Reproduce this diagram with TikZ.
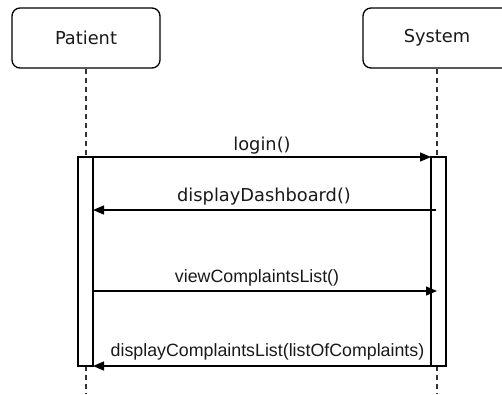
\documentclass[tikz,border=0pt]{standalone}
\usepackage{fontspec}
\newfontfamily\dejavu{DejaVu Sans}
\newfontfamily\arialf{Liberation Sans}
\usetikzlibrary{arrows.meta}
\begin{document}
\begin{tikzpicture}[x=1bp,y=-1bp,
  actor/.style={draw=black,line width=1.3bp,rounded corners=8bp,minimum width=148bp,minimum height=60bp,inner sep=0pt,font=\dejavu\fontsize{17.8bp}{20bp}\selectfont,text=black!90},
  life/.style={draw=black!80,line width=1.4bp,dash pattern=on 5bp off 4bp},
  bar/.style={draw=black,fill=white,line width=1.3bp,minimum width=15bp,inner sep=0pt},
  msg/.style={draw=black,line width=1.3bp,-{Triangle[length=11bp,width=9bp]}},
  lblA/.style={anchor=base,font=\dejavu\fontsize{17.8bp}{20bp}\selectfont,text=black!90,inner sep=0pt},
  lblB/.style={anchor=base,font=\arialf\fontsize{17.8bp}{20bp}\selectfont,text=black!90,inner sep=0pt}]
\useasboundingbox (0,0) rectangle (502,394);
\clip (0,0) rectangle (502,394);
% actors
\node[actor] (patient) at (86,38) {Patient};
\node[actor] (system) at (437,38) {System};
% lifeline ends
\coordinate (pTop) at (86,157);
\coordinate (sTop) at (437,157);
\coordinate (pEnd) at (86,394);
\coordinate (sEnd) at (437,394);
\draw[life] (patient.south) -- (pTop);
\draw[life] (system.south) -- (sTop);
\draw[life] (86,366) -- (pEnd);
\draw[life] (437,366) -- (sEnd);
% activation bars
\node[bar,minimum height=209bp] (pbar) at (85.5,261.5) {};
\node[bar,minimum height=209bp] (sbar) at (438.5,261.5) {};
% message endpoints
\coordinate (m1s) at (93,157);  \coordinate (m1e) at (431,157);
\coordinate (m2s) at (436,210); \coordinate (m2e) at (93,210);
\coordinate (m3s) at (93,291);  \coordinate (m3e) at (437,291);
\coordinate (m4s) at (431,366); \coordinate (m4e) at (93,366);
\draw[msg] (m1s) -- (m1e);
\draw[msg] (m2s) -- (m2e);
\draw[msg] (m3s) -- (m3e);
\draw[msg] (m4s) -- (m4e);
% labels
\node[lblA] (l1) at (262,150.5) {login()};
\node[lblA] (l2) at (264,201.5) {displayDashboard()};
\node[lblB] (l3) at (257,282.5) {viewComplaintsList()};
\node[lblB] (l4) at (267.5,356.5) {displayComplaintsList(listOfComplaints)};
\end{tikzpicture}
\end{document}
